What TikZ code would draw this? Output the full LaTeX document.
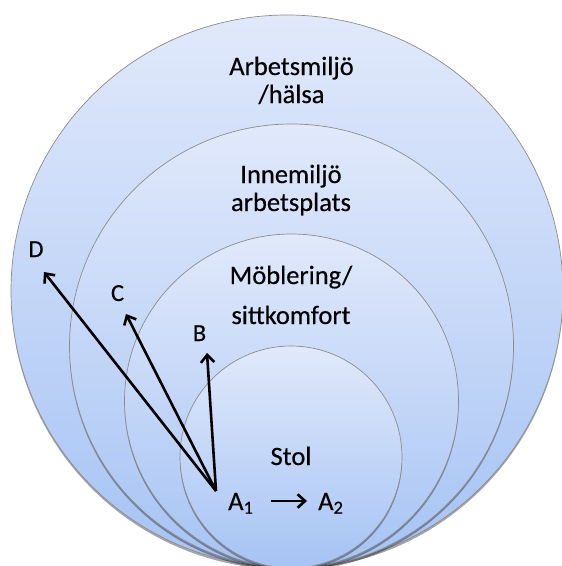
\documentclass[tikz,border=0pt]{standalone}
\usepackage{fontspec}
\setmainfont{Carlito}[FakeBold=0.4]
\usetikzlibrary{arrows.meta}
\definecolor{gtop}{RGB}{225,233,251}
\definecolor{gbot}{RGB}{166,195,244}
\definecolor{rim}{RGB}{140,140,140}
\tikzset{
  ring/.style={draw=rim, line width=0.7pt, top color=gtop, bottom color=gbot},
  ringshadow/.style={fill=black, opacity=0.35},
  bigtext/.style={anchor=base, inner sep=0pt, font=\fontsize{26.5}{30}\selectfont, text=black},
  lettertext/.style={anchor=base, inner sep=0pt, font=\fontsize{24.5}{28}\selectfont, text=black},
  arr/.style={-{Straight Barb[length=7.5pt,width=13.5pt]}, line width=2.6pt, black}
}
\begin{document}
\begin{tikzpicture}[x=1pt,y=-1pt]
\useasboundingbox (0,0) rectangle (562,566);
\fill[white] (0,0) rectangle (562,566);
% shadows and circles
\fill[ringshadow] (287,293.5) circle (276);
\path[ring] (287,291) circle (276);
\fill[ringshadow] (291.5,348.5) circle (222);
\path[ring] (291.5,346) circle (222);
\fill[ringshadow] (291.5,403.5) circle (167);
\path[ring] (291.5,401) circle (167);
\fill[ringshadow] (291,459.5) circle (111);
\path[ring] (291,457) circle (111);
% texts
\node[bigtext] (t1) at (291.5,75) {Arbetsmiljö};
\node[bigtext] (t2) at (291.5,103) {/hälsa};
\node[bigtext] (t3) at (291,183) {Innemiljö};
\node[bigtext] (t4) at (291,211) {arbetsplats};
\node[bigtext] (t5) at (291,284) {Möblering/};
\node[bigtext] (t6) at (291,324) {sittkomfort};
\node[bigtext] (t7) at (291,465) {Stol};
\node[bigtext, anchor=base west] (a1) at (228,510) {A\textsubscript{1}};
\node[bigtext, anchor=base west] (a2) at (318,510) {A\textsubscript{2}};
\node[lettertext] (d) at (36,257) {D};
\node[lettertext] (c) at (117.5,301) {C};
\node[lettertext] (b) at (199.5,341) {B};
% arrows
\coordinate (o) at (216,491);
\coordinate (dtip) at (44,272);
\coordinate (ctip) at (126,314);
\coordinate (btip) at (207,353);
\draw[arr] (o) -- (dtip);
\draw[arr] (o) -- (ctip);
\draw[arr] (o) -- (btip);
\draw[arr] ([shift={(17pt,9pt)}]a1.base east) -- ([shift={(-11pt,9pt)}]a2.base west);
\end{tikzpicture}
\end{document}
